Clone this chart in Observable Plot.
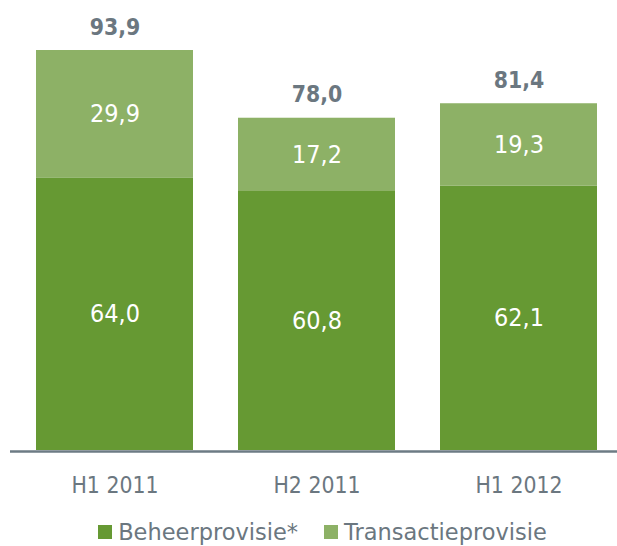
<!DOCTYPE html>
<html>
<head>
<meta charset="utf-8">
<script src="https://cdn.jsdelivr.net/npm/d3@7"></script>
<script src="https://cdn.jsdelivr.net/npm/@observablehq/plot@0.6"></script>
<style>
  html, body { margin: 0; padding: 0; background: #fff; }
  body { width: 617px; height: 546px; overflow: hidden; font-family: "DejaVu Sans", Verdana, sans-serif; }
  #legend { display: flex; justify-content: center; align-items: center; height: 26px; line-height: 26px; padding-left: 28px; color: #6b7780; font-size: 22.5px; }
  .item { display: flex; align-items: center; margin: 0 13px; }
  .sw { width: 14px; height: 14px; margin-right: 6px; }
</style>
</head>
<body>
<div id="chart"></div>
<div id="legend"></div>
<script>
const categories = ["H1 2011", "H2 2011", "H1 2012"];
const seriesNames = ["Beheerprovisie*", "Transactieprovisie"];
const beheer = [64.0, 60.8, 62.1];
const transactie = [29.9, 17.2, 19.3];
const totals = [93.9, 78.0, 81.4];
const colors = ["#669933", "#8db166"];
const gray = "#6b7780";

const fmt = v => d3.format(".1f")(v).replace(".", ",");

const rows = [];
categories.forEach((c, i) => {
  rows.push({cat: c, series: seriesNames[0], value: beheer[i]});
  rows.push({cat: c, series: seriesNames[1], value: transactie[i]});
});
const totalRows = categories.map((c, i) => ({cat: c, total: totals[i]}));

const chart = Plot.plot({
  width: 617,
  height: 519,
  marginTop: 50,
  marginBottom: 69,
  marginLeft: 10,
  marginRight: 0,
  style: {fontFamily: "'DejaVu Sans', Verdana, sans-serif", background: "#fff"},
  x: {domain: categories, paddingInner: 0.225, paddingOuter: 0.11, align: 0.55, label: null},
  y: {domain: [0, 93.9], axis: null},
  color: {domain: seriesNames, range: colors},
  marks: [
    Plot.barY(rows, Plot.stackY({x: "cat", y: "value", fill: "series"})),
    Plot.text(rows, Plot.stackY({x: "cat", y: "value", z: "series", text: d => fmt(d.value), fill: "white", fontSize: 22.5})),
    Plot.text(totalRows, {x: "cat", y: "total", text: d => fmt(d.total), lineAnchor: "bottom", dy: -16, fill: gray, fontSize: 20.5, fontWeight: "bold"}),
    Plot.ruleY([0], {stroke: "#6d7b84", strokeWidth: 2.5, dy: 1}),
    Plot.axisX({tickSize: 0, tickPadding: 26, fontSize: 20.5, fill: gray, label: null})
  ]
});
// Slightly taller glyphs, as in the reference's font
chart.querySelectorAll("text").forEach(t => {
  const tr = t.getAttribute("transform");
  if (tr) t.setAttribute("transform", tr + " scale(1,1.12)");
});
document.getElementById("chart").appendChild(chart);

const legend = document.getElementById("legend");
seriesNames.forEach((s, i) => {
  const item = document.createElement("div");
  item.className = "item";
  const sw = document.createElement("div");
  sw.className = "sw";
  sw.style.background = colors[i];
  const t = document.createElement("span");
  t.textContent = s;
  item.appendChild(sw);
  item.appendChild(t);
  legend.appendChild(item);
});
</script>
</body>
</html>
